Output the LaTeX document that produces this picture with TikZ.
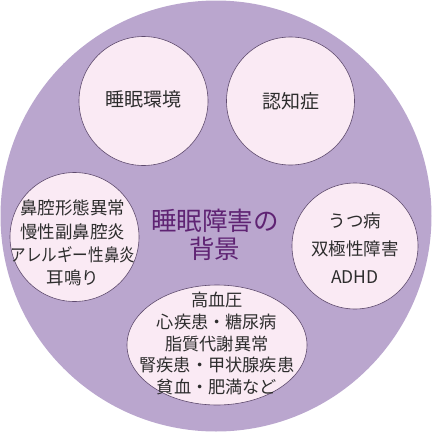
\documentclass[tikz,border=0pt]{standalone}
\usepackage{fontspec}
\setmainfont{Noto Sans CJK JP}
\newfontfamily\cjk{Noto Sans CJK JP}
\definecolor{bigfill}{RGB}{186,166,206}
\definecolor{smallfill}{RGB}{250,234,244}
\definecolor{edgecol}{RGB}{95,75,110}
\definecolor{titlecol}{RGB}{95,35,115}
\definecolor{txtcol}{RGB}{45,45,45}
\begin{document}
\begin{tikzpicture}[x=1pt,y=-1pt,
  bigcircle/.style={fill=bigfill,draw=none},
  smallcircle/.style={fill=smallfill,draw=edgecol,line width=0.6pt},
  inner/.style={font=\cjk\fontsize{19}{24}\selectfont,text=txtcol,align=center,inner sep=0pt},
  title/.style={font=\cjk\fontsize{25.5}{28}\selectfont,text=titlecol,align=center,inner sep=0pt}]
\useasboundingbox (0,0) rectangle (432,432);
\fill[bigcircle] (216,216) circle[radius=215.5];
\draw[smallcircle] (143.5,101) circle[radius=64.5];
\draw[smallcircle] (290.5,101) circle[radius=64];
\draw[smallcircle] (74.5,237) circle[radius=64.5];
\draw[smallcircle] (355,246) circle[radius=63];
\draw[smallcircle] (217,345) ellipse[x radius=90,y radius=60];
\node[inner] (env) at (143.5,99) {睡眠環境};
\node[inner] (dem) at (290.5,101) {認知症};
\node[inner,font=\cjk\fontsize{17.5}{23.3}\selectfont] (nose) at (73,243) {鼻腔形態異常\\慢性副鼻腔炎\\\scalebox{0.89}[1]{アレルギー性鼻炎}\\耳鳴り};
\node[inner,font=\cjk\fontsize{17.5}{28}\selectfont] (mind) at (355,248) {うつ病\\双極性障害\\ADHD};
\node[inner,font=\cjk\fontsize{17.2}{21.7}\selectfont] (body) at (217,343.5) {高血圧\\心疾患・糖尿病\\脂質代謝異常\\腎疾患・甲状腺疾患\\貧血・肥満など};
\node[title] (center) at (215,235) {睡眠障害の\\背景};
\end{tikzpicture}
\end{document}
